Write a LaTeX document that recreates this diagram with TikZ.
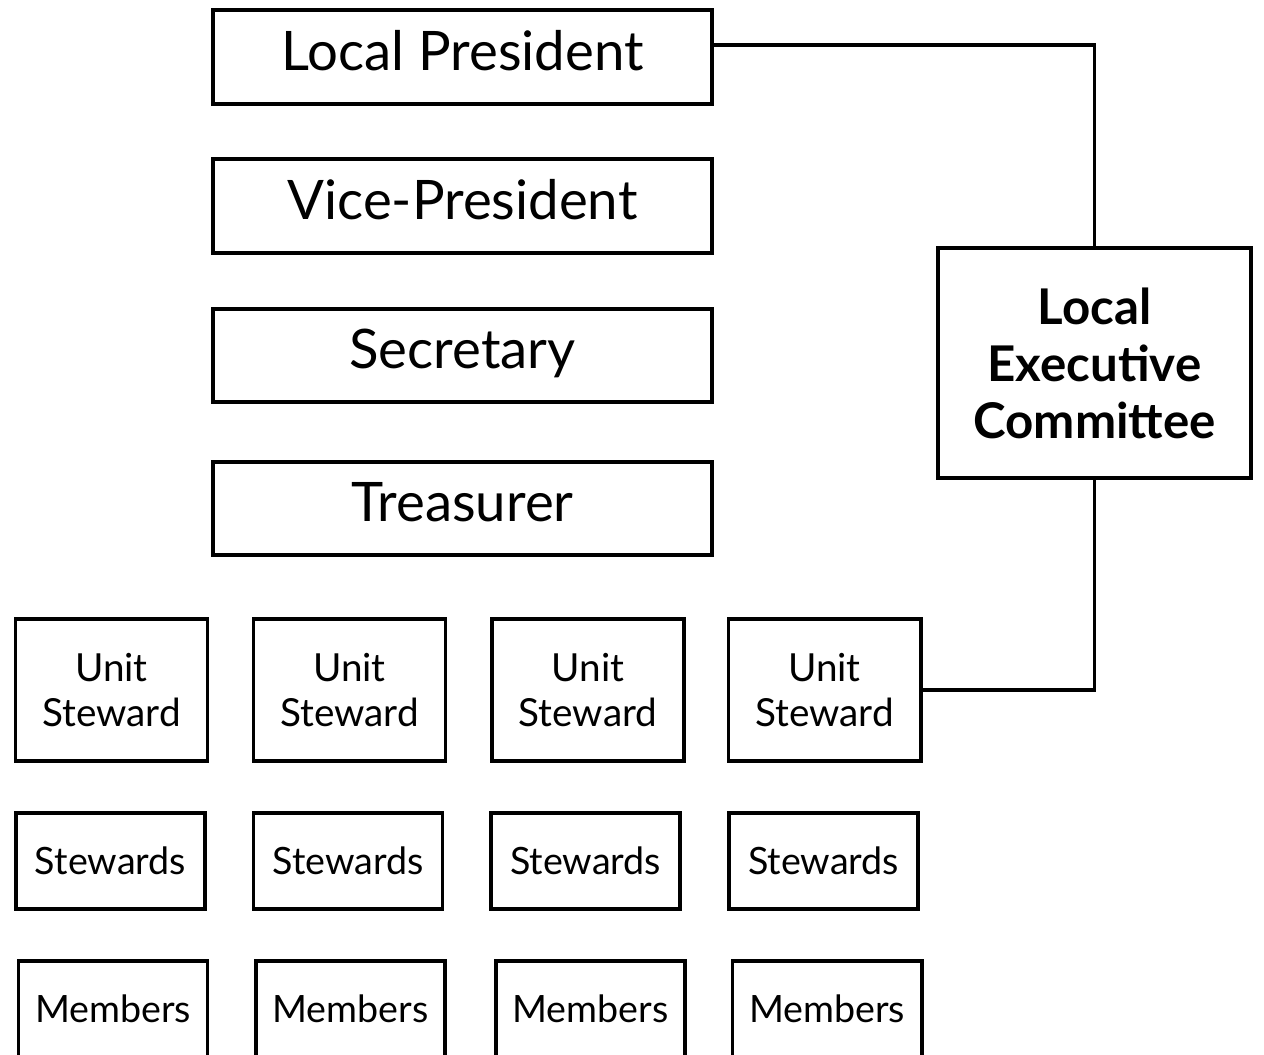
\documentclass[tikz,border=0pt]{standalone}
\usepackage{fontspec}
\setmainfont{Lato}

\begin{document}
\begin{tikzpicture}[x=0.01cm, y=-0.01cm,
        box/.style={draw, line width=1.1pt, inner sep=0pt, align=center},
        office/.style={box, minimum width=4.99cm, minimum height=0.935cm,
            font=\fontsize{15.5}{19}\selectfont, text height=0.26cm, text depth=0pt},
        unit/.style={box, minimum width=1.92cm, minimum height=1.42cm,
            font=\fontsize{11}{12.8}\selectfont},
        crew/.style={box, minimum width=1.89cm, minimum height=0.96cm,
            font=\fontsize{10.7}{13}\selectfont},
        link/.style={line width=1.1pt}]
        \useasboundingbox (0,0) rectangle (1264,1054);

        % officers
        \node[office] (pres)  at (462.5,57)    {Local President};
        \node[office] (vice)  at (462.5,206)   {Vice-President};
        \node[office] (secr)  at (462.5,355.5) {Secretary};
        \node[office] (treas) at (462.5,508.5) {Treasurer};

        \node[box, minimum width=3.13cm, minimum height=2.30cm,
            font=\bfseries\fontsize{14}{16.2}\selectfont] (lec) at (1094.5,363)
            {Local\\Executive\\Committee};

        % units
        \foreach \i/\xu/\xs/\xm in {1/111.5/110.5/113, 2/349.5/348/350.5,
                3/588/585.5/590.5, 4/824.5/823.5/827} {
            \node[unit] (unit\i) at (\xu,690)  {Unit\\Steward};
            \node[crew] (stew\i) at (\xs,861)  {Stewards};
            \node[crew] (memb\i) at (\xm,1009) {Members};
        }

        \draw[link] ([yshift=0.12cm]pres.east) -| (lec.north);
        \draw[link] (lec.south) |- (unit4.east);
    \end{tikzpicture}
\end{document}
